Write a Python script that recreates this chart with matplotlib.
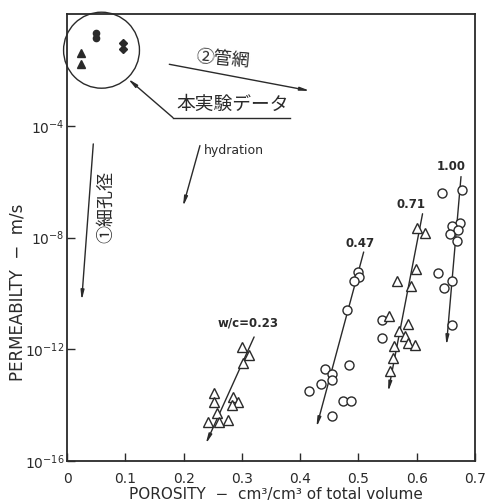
import numpy as np
import matplotlib
matplotlib.use("Agg")
import matplotlib.pyplot as plt
from matplotlib.patches import Ellipse

plt.rcParams['font.family'] = ['DejaVu Sans', 'Noto Sans CJK JP']
plt.rcParams['mathtext.fontset'] = 'dejavusans'

INK = '#2a2a2a'

# ---- data: porosity (cm3/cm3) and log10 permeability (m/s) ----
wc023_por = [0.300, 0.313, 0.302, 0.252, 0.252, 0.284, 0.294, 0.283, 0.257, 0.242, 0.260, 0.277]
wc023_logk = [-11.92, -12.21, -12.51, -13.58, -13.88, -13.70, -13.88, -14.00, -14.27, -14.60, -14.60, -14.54]

wc047_por = [0.500, 0.501, 0.492, 0.480, 0.540, 0.540, 0.483, 0.443, 0.454, 0.454,
             0.435, 0.416, 0.473, 0.487, 0.454]
wc047_logk = [-9.24, -9.42, -9.54, -10.61, -10.96, -11.58, -12.55, -12.72, -12.87, -13.11,
              -13.25, -13.50, -13.86, -13.86, -14.39]

wc071_por = [0.600, 0.615, 0.599, 0.566, 0.591, 0.553, 0.585, 0.570, 0.580, 0.585,
             0.597, 0.561, 0.559, 0.555]
wc071_logk = [-7.66, -7.84, -9.12, -9.54, -9.73, -10.82, -11.11, -11.35, -11.54, -11.77,
              -11.83, -11.89, -12.33, -12.77]

wc100_por = [0.644, 0.677, 0.674, 0.660, 0.671, 0.657, 0.669, 0.637, 0.660, 0.646, 0.660]
wc100_logk = [-6.42, -6.31, -7.47, -7.59, -7.73, -7.87, -8.11, -9.27, -9.57, -9.82, -11.12]

# present-study data (inside circle)
exp_tri_por = [0.0235, 0.0235]
exp_tri_logk = [-1.38, -1.80]
exp_cir_por = [0.050, 0.050]
exp_cir_logk = [-0.67, -0.85]
exp_dia_por = [0.0955, 0.0955]
exp_dia_logk = [-1.03, -1.26]

# hydration trend lines: (start porosity, start log k) -> (arrow tip porosity, tip log k)
trend_labels = ['w/c=0.23', '0.47', '0.71', '1.00']
trend_start = [(0.321, -11.56), (0.509, -8.52), (0.610, -7.15), (0.676, -5.82)]
trend_end = [(0.238, -15.39), (0.428, -14.79), (0.551, -13.52), (0.651, -11.86)]
trend_label_pos = [(0.3105, -11.07), (0.5026, -8.21), (0.590, -6.82), (0.660, -5.46)]

x_ticks = [0, 0.1, 0.2, 0.3, 0.4, 0.5, 0.6, 0.7]
x_ticklabels = ['0', '0.1', '0.2', '0.3', '0.4', '0.5', '0.6', '0.7']
y_tick_exps = [-16, -12, -8, -4]

fig = plt.figure(figsize=(4.92, 5.03), dpi=100)
ax = fig.add_axes([67/492, 42/503, 408/492, 447/503])
ax.set_yscale('log')
ax.set_xlim(0, 0.7)
ax.set_ylim(1e-16, 1e0)

def k(v):
    return np.power(10.0, np.asarray(v, dtype=float))

ms_tri = dict(marker='^', ls='none', mfc='white', mec=INK, mew=1.0, ms=7, zorder=4)
ms_cir = dict(marker='o', ls='none', mfc='white', mec=INK, mew=1.0, ms=6.5, zorder=4)
ax.plot(wc023_por, k(wc023_logk), **ms_tri)
ax.plot(wc047_por, k(wc047_logk), **ms_cir)
ax.plot(wc071_por, k(wc071_logk), **ms_tri)
ax.plot(wc100_por, k(wc100_logk), **ms_cir)

ax.plot(exp_tri_por, k(exp_tri_logk), marker='^', ls='none', color=INK, ms=6, clip_on=False)
ax.plot(exp_cir_por, k(exp_cir_logk), marker='o', ls='none', color=INK, ms=4.5, clip_on=False)
ax.plot(exp_dia_por, k(exp_dia_logk), marker='D', ls='none', color=INK, ms=4, clip_on=False)

arrow = dict(arrowstyle='-|>,head_length=0.55,head_width=0.1', color=INK, lw=1.0,
             shrinkA=0, shrinkB=0)
for lab, s, e, lp in zip(trend_labels, trend_start, trend_end, trend_label_pos):
    ax.annotate('', xy=(e[0], 10**e[1]), xytext=(s[0], 10**s[1]), arrowprops=arrow, zorder=3)
    ax.text(lp[0], 10**lp[1], lab, ha='center', va='center', fontsize=8.5,
            fontweight='bold', color=INK)

# circle around present data
ax.add_patch(Ellipse((0.0846, 0.919), 0.186, 0.170, transform=ax.transAxes,
                     fill=False, ec=INK, lw=1.0, clip_on=False))

jp = ['Noto Sans CJK JP', 'DejaVu Sans']
# (2) pipe network arrow
ax.annotate('', xy=(0.4168, 10**-2.75), xytext=(0.1755, 10**-1.80), arrowprops=arrow)
ax.text(0.2676, 10**-1.62, '②管網', family=jp, fontsize=13, ha='center', va='center',
        rotation=-5, color=INK)
# callout to circle
ax.plot([0.3825, 0.1818], [10**-3.71, 10**-3.71], color=INK, lw=1.0)
ax.annotate('', xy=(0.1046, 10**-2.32), xytext=(0.1818, 10**-3.71), arrowprops=arrow)
ax.text(0.2847, 10**-3.22, '本実験データ', family=jp, fontsize=13.5, ha='center',
        va='center', color=INK)
# (1) pore size arrow
ax.annotate('', xy=(0.0252, 10**-10.25), xytext=(0.0451, 10**-4.65), arrowprops=arrow)
ax.text(0.068, 10**-6.91, '①細孔径', family=jp, fontsize=13, ha='center', va='center',
        rotation=90, color=INK)
# hydration arrow
ax.annotate('', xy=(0.199, 10**-6.89), xytext=(0.2281, 10**-4.71), arrowprops=arrow)
ax.text(0.287, 10**-4.89, 'hydration', fontsize=9, ha='center', va='center', color=INK)

ax.set_xticks(x_ticks)
ax.set_xticklabels(x_ticklabels)
ax.set_yticks([10.0**e for e in y_tick_exps])
ax.set_yticklabels([r'$10^{%d}$' % e for e in y_tick_exps])
ax.yaxis.set_minor_locator(matplotlib.ticker.NullLocator())
ax.tick_params(axis='both', direction='in', length=6, width=1.0, color=INK,
               labelsize=10, labelcolor=INK)
ax.tick_params(axis='x', pad=8)
ax.tick_params(axis='y', pad=2)
for sp in ax.spines.values():
    sp.set_linewidth(1.3)
    sp.set_color(INK)

fig.text(276/492, 1 - 502/503, 'POROSITY  −  cm³/cm³ of total volume', ha='center',
         va='bottom', fontsize=11, color=INK)
fig.text(18/492, 1 - 292/503, 'PERMEABILTY  −  m/s', ha='center', va='center',
         rotation=90, fontsize=12, color=INK)

fig.savefig('out.png', dpi=100, facecolor='white')
